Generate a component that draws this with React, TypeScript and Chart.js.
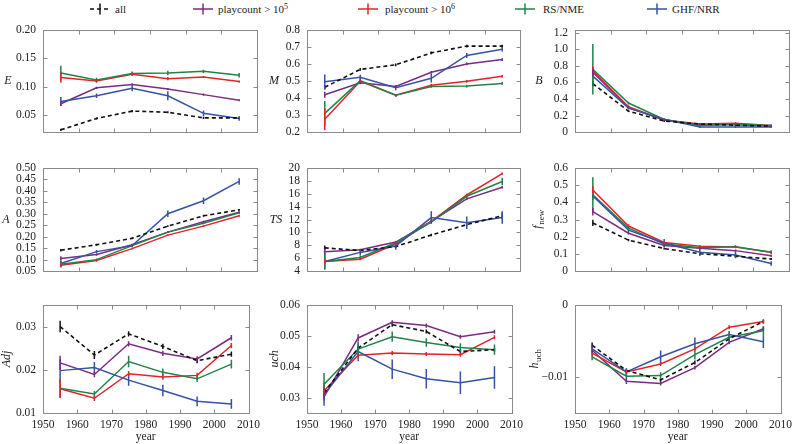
import React, { useEffect, useRef } from 'react';
import { Chart, registerables } from 'chart.js';
Chart.register(...registerables);

// ---------------- data ----------------
const years = [1955, 1965, 1975, 1985, 1995, 2005];
const yearTicks = [1950, 1960, 1970, 1980, 1990, 2000, 2010];
const xTitle = 'year';

const seriesNames = ['all', 'playcount > 10', 'playcount > 10', 'RS/NME', 'GHF/NRR'];
const seriesSups = ['', '5', '6', '', ''];
const seriesColors = ['#111111', '#7a2b82', '#e2242a', '#21834a', '#3653a3'];

// E
const eAll = [0.024, 0.044, 0.057, 0.055, 0.045, 0.045];
const eP5 = [0.070, 0.098, 0.104, 0.096, 0.086, 0.076];
const eP6 = [0.116, 0.110, 0.122, 0.114, 0.117, 0.109];
const eRS = [0.124, 0.112, 0.123, 0.124, 0.127, 0.120];
const eGHF = [0.074, 0.084, 0.097, 0.084, 0.053, 0.044];
const eAllErr = [0.001, 0.001, 0.001, 0.001, 0.001, 0.001];
const eP5Err = [0.003, 0.001, 0.001, 0.001, 0.001, 0.001];
const eP6Err = [0.008, 0.002, 0.002, 0.002, 0.001, 0.001];
const eRSErr = [0.012, 0.003, 0.003, 0.003, 0.002, 0.003];
const eGHFErr = [0.007, 0.003, 0.004, 0.007, 0.004, 0.003];
const eTicks = [0.05, 0.10, 0.15, 0.20];
const eTickLabels = ['0.05', '0.10', '0.15', '0.20'];

// M
const mAll = [0.463, 0.568, 0.595, 0.665, 0.705, 0.705];
const mP5 = [0.419, 0.489, 0.468, 0.551, 0.600, 0.626];
const mP6 = [0.275, 0.498, 0.416, 0.475, 0.498, 0.528];
const mRS = [0.310, 0.502, 0.416, 0.468, 0.470, 0.486];
const mGHF = [0.495, 0.522, 0.460, 0.516, 0.650, 0.686];
const mAllErr = [0.01, 0.005, 0.005, 0.005, 0.005, 0.005];
const mP5Err = [0.015, 0.005, 0.005, 0.005, 0.005, 0.005];
const mP6Err = [0.06, 0.01, 0.005, 0.005, 0.005, 0.005];
const mRSErr = [0.07, 0.01, 0.005, 0.005, 0.005, 0.005];
const mGHFErr = [0.04, 0.012, 0.012, 0.022, 0.012, 0.01];
const mTicks = [0.2, 0.3, 0.4, 0.5, 0.6, 0.7, 0.8];
const mTickLabels = ['0.2', '0.3', '0.4', '0.5', '0.6', '0.7', '0.8'];

// B
const bAll = [0.585, 0.253, 0.134, 0.098, 0.083, 0.072];
const bP5 = [0.723, 0.296, 0.145, 0.090, 0.090, 0.072];
const bP6 = [0.741, 0.307, 0.145, 0.098, 0.108, 0.080];
const bRS = [0.759, 0.351, 0.152, 0.080, 0.098, 0.080];
const bGHF = [0.676, 0.289, 0.155, 0.061, 0.061, 0.061];
const bAllErr = [0.03, 0.005, 0.005, 0.005, 0.005, 0.005];
const bP5Err = [0.04, 0.01, 0.005, 0.005, 0.005, 0.005];
const bP6Err = [0.05, 0.01, 0.005, 0.005, 0.005, 0.005];
const bRSErr = [0.30, 0.01, 0.005, 0.005, 0.005, 0.005];
const bGHFErr = [0.05, 0.01, 0.005, 0.005, 0.005, 0.005];
const bTicks = [0, 0.2, 0.4, 0.6, 0.8, 1.0, 1.2];
const bTickLabels = ['0', '0.2', '0.4', '0.6', '0.8', '1.0', '1.2'];

// A
const aAll = [0.141, 0.165, 0.193, 0.246, 0.291, 0.317];
const aP5 = [0.105, 0.122, 0.165, 0.220, 0.265, 0.307];
const aP6 = [0.076, 0.096, 0.148, 0.207, 0.246, 0.291];
const aRS = [0.080, 0.100, 0.161, 0.220, 0.259, 0.304];
const aGHF = [0.083, 0.135, 0.161, 0.300, 0.357, 0.441];
const aAllErr = [0.003, 0.002, 0.002, 0.002, 0.002, 0.002];
const aP5Err = [0.008, 0.003, 0.002, 0.002, 0.002, 0.002];
const aP6Err = [0.006, 0.003, 0.002, 0.002, 0.002, 0.002];
const aRSErr = [0.012, 0.003, 0.003, 0.002, 0.002, 0.003];
const aGHFErr = [0.01, 0.005, 0.005, 0.012, 0.012, 0.012];
const aTicks = [0.05, 0.10, 0.15, 0.20, 0.25, 0.30, 0.35, 0.40, 0.45, 0.50];
const aTickLabels = ['0.05', '0.10', '0.15', '0.20', '0.25', '0.30', '0.35', '0.40', '0.45', '0.50'];

// TS
const tsAll = [7.6, 7.2, 7.8, 9.6, 11.2, 12.6];
const tsP5 = [7.0, 7.3, 8.5, 11.7, 15.2, 17.0];
const tsP6 = [5.5, 5.85, 8.2, 11.7, 15.8, 19.1];
const tsRS = [5.5, 6.1, 8.4, 11.6, 15.6, 17.9];
const tsGHF = [5.5, 6.9, 7.9, 12.3, 11.5, 12.3];
const tsAllErr = [0.3, 0.1, 0.1, 0.1, 0.1, 0.4];
const tsP5Err = [0.4, 0.1, 0.1, 0.1, 0.1, 0.1];
const tsP6Err = [0.3, 0.1, 0.1, 0.1, 0.1, 0.1];
const tsRSErr = [1.0, 0.2, 0.2, 0.2, 0.2, 0.5];
const tsGHFErr = [1.2, 0.4, 0.5, 0.9, 0.9, 0.9];
const tsTicks = [4, 6, 8, 10, 12, 14, 16, 18, 20];
const tsTickLabels = ['4', '6', '8', '10', '12', '14', '16', '18', '20'];

// f_new
const fAll = [0.280, 0.180, 0.131, 0.101, 0.087, 0.070];
const fP5 = [0.346, 0.220, 0.149, 0.133, 0.119, 0.089];
const fP6 = [0.472, 0.262, 0.166, 0.145, 0.140, 0.110];
const fRS = [0.443, 0.250, 0.157, 0.136, 0.142, 0.110];
const fGHF = [0.437, 0.238, 0.163, 0.110, 0.093, 0.044];
const fAllErr = [0.015, 0.003, 0.003, 0.003, 0.003, 0.003];
const fP5Err = [0.02, 0.005, 0.004, 0.004, 0.004, 0.004];
const fP6Err = [0.02, 0.008, 0.005, 0.004, 0.004, 0.004];
const fRSErr = [0.10, 0.01, 0.005, 0.005, 0.005, 0.008];
const fGHFErr = [0.02, 0.01, 0.02, 0.02, 0.015, 0.01];
const fTicks = [0, 0.1, 0.2, 0.3, 0.4, 0.5, 0.6];
const fTickLabels = ['0', '0.1', '0.2', '0.3', '0.4', '0.5', '0.6'];

// Adj
const adjAll = [0.0300, 0.0234, 0.0283, 0.0254, 0.0221, 0.0236];
const adjP5 = [0.0216, 0.0189, 0.0260, 0.0238, 0.0225, 0.0274];
const adjP6 = [0.0156, 0.0134, 0.0191, 0.0183, 0.0187, 0.0256];
const adjRS = [0.0157, 0.0144, 0.0219, 0.0194, 0.0179, 0.0213];
const adjGHF = [0.0198, 0.0205, 0.0176, 0.0152, 0.0127, 0.0121];
const adjAllErr = [0.0012, 0.0008, 0.0005, 0.0005, 0.0005, 0.0005];
const adjP5Err = [0.0015, 0.0005, 0.0005, 0.0005, 0.0005, 0.0005];
const adjP6Err = [0.002, 0.0005, 0.0005, 0.0005, 0.0005, 0.0005];
const adjRSErr = [0.002, 0.0006, 0.0012, 0.0008, 0.0006, 0.0009];
const adjGHFErr = [0.0025, 0.0012, 0.0012, 0.0012, 0.001, 0.001];
const adjTicks = [0.01, 0.02, 0.03];
const adjTickLabels = ['0.01', '0.02', '0.03'];

// uch
const uAll = [0.0315, 0.0460, 0.0536, 0.0514, 0.0449, 0.0455];
const uP5 = [0.0302, 0.0493, 0.0544, 0.0533, 0.0497, 0.0513];
const uP6 = [0.0322, 0.0437, 0.0444, 0.0441, 0.0439, 0.0495];
const uRS = [0.0343, 0.0457, 0.0497, 0.0478, 0.0462, 0.0455];
const uGHF = [0.0310, 0.0449, 0.0392, 0.0361, 0.0348, 0.0365];
const uAllErr = [0.0005, 0.0005, 0.0005, 0.0005, 0.0005, 0.0005];
const uP5Err = [0.001, 0.001, 0.0005, 0.0005, 0.0005, 0.0005];
const uP6Err = [0.001, 0.0005, 0.0005, 0.0005, 0.0005, 0.0005];
const uRSErr = [0.0035, 0.0015, 0.0015, 0.0012, 0.0012, 0.0015];
const uGHFErr = [0.0035, 0.003, 0.003, 0.003, 0.0035, 0.0035];
const uTicks = [0.03, 0.04, 0.05, 0.06];
const uTickLabels = ['0.03', '0.04', '0.05', '0.06'];

// h_uch
const hAll = [-0.0056, -0.0091, -0.0104, -0.0080, -0.0047, -0.0023];
const hP5 = [-0.0063, -0.0106, -0.0109, -0.0087, -0.0052, -0.0033];
const hP6 = [-0.0067, -0.0093, -0.0082, -0.0061, -0.0031, -0.0023];
const hRS = [-0.0072, -0.0099, -0.0098, -0.0069, -0.0045, -0.0036];
const hGHF = [-0.0061, -0.0093, -0.0072, -0.0054, -0.0041, -0.0051];
const hAllErr = [0.0003, 0.0002, 0.0002, 0.0002, 0.0002, 0.0002];
const hP5Err = [0.0003, 0.0003, 0.0002, 0.0002, 0.0002, 0.0002];
const hP6Err = [0.0003, 0.0002, 0.0002, 0.0002, 0.0002, 0.0002];
const hRSErr = [0.0004, 0.0004, 0.0004, 0.0006, 0.0005, 0.0006];
const hGHFErr = [0.0004, 0.0004, 0.0008, 0.0008, 0.0004, 0.0008];
const hTicks = [-0.01, 0];
const hTickLabels = ['\u22120.01', '0'];

// ---------------- layout ----------------
const colLeft = [43, 307, 575];
const colWidth = [214, 213, 214];
const rowTop = [24, 162, 299];
const rowHeight = [114, 115, 114];
const PL = 48;
const PT = 8;
const PR = 8;
const FONT = "'Liberation Serif', 'DejaVu Serif', serif";

type PanelDef = {
  title: string; sub: string; rot: boolean; dx: number;
  min: number; max: number; ticks: number[]; labels: string[];
  series: number[][]; errs: number[][]; row: number; col: number;
};

const panels: PanelDef[] = [
  { title: 'E', sub: '', rot: false, dx: -35, min: 0.02, max: 0.20, ticks: eTicks, labels: eTickLabels,
    series: [eAll, eP5, eP6, eRS, eGHF], errs: [eAllErr, eP5Err, eP6Err, eRSErr, eGHFErr], row: 0, col: 0 },
  { title: 'M', sub: '', rot: false, dx: -33, min: 0.2, max: 0.8, ticks: mTicks, labels: mTickLabels,
    series: [mAll, mP5, mP6, mRS, mGHF], errs: [mAllErr, mP5Err, mP6Err, mRSErr, mGHFErr], row: 0, col: 1 },
  { title: 'B', sub: '', rot: false, dx: -36, min: 0, max: 1.235, ticks: bTicks, labels: bTickLabels,
    series: [bAll, bP5, bP6, bRS, bGHF], errs: [bAllErr, bP5Err, bP6Err, bRSErr, bGHFErr], row: 0, col: 2 },
  { title: 'A', sub: '', rot: false, dx: -37, min: 0.05, max: 0.50, ticks: aTicks, labels: aTickLabels,
    series: [aAll, aP5, aP6, aRS, aGHF], errs: [aAllErr, aP5Err, aP6Err, aRSErr, aGHFErr], row: 1, col: 0 },
  { title: 'TS', sub: '', rot: false, dx: -31, min: 4, max: 20, ticks: tsTicks, labels: tsTickLabels,
    series: [tsAll, tsP5, tsP6, tsRS, tsGHF], errs: [tsAllErr, tsP5Err, tsP6Err, tsRSErr, tsGHFErr], row: 1, col: 1 },
  { title: 'f', sub: 'new', rot: true, dx: -37, min: 0, max: 0.6, ticks: fTicks, labels: fTickLabels,
    series: [fAll, fP5, fP6, fRS, fGHF], errs: [fAllErr, fP5Err, fP6Err, fRSErr, fGHFErr], row: 1, col: 2 },
  { title: 'Adj', sub: '', rot: true, dx: -36, min: 0.01, max: 0.035, ticks: adjTicks, labels: adjTickLabels,
    series: [adjAll, adjP5, adjP6, adjRS, adjGHF], errs: [adjAllErr, adjP5Err, adjP6Err, adjRSErr, adjGHFErr], row: 2, col: 0 },
  { title: 'uch', sub: '', rot: true, dx: -32, min: 0.025, max: 0.06, ticks: uTicks, labels: uTickLabels,
    series: [uAll, uP5, uP6, uRS, uGHF], errs: [uAllErr, uP5Err, uP6Err, uRSErr, uGHFErr], row: 2, col: 1 },
  { title: 'h', sub: 'uch', rot: true, dx: -40, min: -0.015, max: 0, ticks: hTicks, labels: hTickLabels,
    series: [hAll, hP5, hP6, hRS, hGHF], errs: [hAllErr, hP5Err, hP6Err, hRSErr, hGHFErr], row: 2, col: 2 },
];

// draw order: index 0 is drawn on top
const drawOrder = [0, 4, 3, 2, 1];

const framePlugin = {
  id: 'frame',
  beforeDatasetsDraw(chart: any) {
    const { ctx, chartArea: a, scales } = chart;
    ctx.save();
    ctx.strokeStyle = '#8a8a8a';
    ctx.lineWidth = 1;
    const L = Math.round(a.left) + 0.5, R = Math.round(a.right) + 0.5;
    const T = Math.round(a.top) + 0.5, B = Math.round(a.bottom) + 0.5;
    ctx.strokeRect(L, T, R - L, B - T);
    const tl = 4;
    ctx.beginPath();
    for (const t of scales.x.ticks) {
      const px = Math.round(scales.x.getPixelForValue(t.value)) + 0.5;
      ctx.moveTo(px, B); ctx.lineTo(px, B - tl);
      ctx.moveTo(px, T); ctx.lineTo(px, T + tl);
    }
    for (const t of scales.y.ticks) {
      const py = Math.round(scales.y.getPixelForValue(t.value)) + 0.5;
      ctx.moveTo(L, py); ctx.lineTo(L + tl, py);
      ctx.moveTo(R, py); ctx.lineTo(R - tl, py);
    }
    ctx.stroke();
    ctx.restore();
  },
};

const errorPlugin = {
  id: 'errbars',
  afterDatasetsDraw(chart: any) {
    const { ctx, scales } = chart;
    ctx.save();
    ctx.lineWidth = 1.5;
    chart.data.datasets.forEach((ds: any, i: number) => {
      const meta = chart.getDatasetMeta(i);
      ctx.strokeStyle = ds.borderColor;
      ctx.setLineDash([]);
      ctx.beginPath();
      meta.data.forEach((pt: any, j: number) => {
        const v = ds.data[j].y;
        const e = ds.errors[j];
        const y1 = scales.y.getPixelForValue(v - e);
        const y2 = scales.y.getPixelForValue(v + e);
        ctx.moveTo(pt.x, Math.max(y1, y2) + 0.5);
        ctx.lineTo(pt.x, Math.min(y1, y2) - 0.5);
      });
      ctx.stroke();
    });
    ctx.restore();
  },
};

const titlePlugin = {
  id: 'ptitle',
  afterDraw(chart: any, _args: any, opts: any) {
    const { ctx, chartArea: a } = chart;
    ctx.save();
    ctx.fillStyle = '#222';
    // y title
    const cx = a.left + opts.dx;
    const cy = (a.top + a.bottom) / 2;
    ctx.translate(cx, cy);
    if (opts.rot) ctx.rotate(-Math.PI / 2);
    const mainFont = `italic 12px ${FONT}`;
    const subFont = `9px ${FONT}`;
    ctx.font = mainFont;
    const wm = ctx.measureText(opts.title).width;
    ctx.font = subFont;
    const ws = opts.sub ? ctx.measureText(opts.sub).width : 0;
    const tot = wm + ws;
    ctx.textBaseline = 'middle';
    ctx.textAlign = 'left';
    ctx.font = mainFont;
    ctx.fillText(opts.title, -tot / 2, 0);
    if (opts.sub) {
      ctx.font = subFont;
      ctx.fillText(opts.sub, -tot / 2 + wm + 0.5, 4);
    }
    ctx.restore();
    if (opts.xTitle) {
      ctx.save();
      ctx.fillStyle = '#222';
      ctx.font = `11.5px ${FONT}`;
      ctx.textAlign = 'center';
      ctx.textBaseline = 'middle';
      ctx.fillText(opts.xTitle, (a.left + a.right) / 2, a.bottom + 24);
      ctx.restore();
    }
  },
};

function Panel({ p }: { p: PanelDef }) {
  const ref = useRef<HTMLCanvasElement>(null);
  const bottomRow = p.row === 2;
  const bottomH = bottomRow ? 444 - (rowTop[2] + rowHeight[2]) : 8;
  const width = colWidth[p.col] + PL + PR;
  const height = rowHeight[p.row] + PT + bottomH;
  const left = colLeft[p.col] - PL;
  const top = rowTop[p.row] - PT;

  useEffect(() => {
    if (!ref.current) return;
    const datasets = drawOrder.map((si) => ({
      label: seriesNames[si] + seriesSups[si],
      data: years.map((x, j) => ({ x, y: p.series[si][j] })),
      errors: p.errs[si],
      borderColor: seriesColors[si],
      backgroundColor: seriesColors[si],
      borderWidth: si === 0 ? 1.6 : 1.5,
      borderDash: si === 0 ? [4, 3] : [],
      pointRadius: 0,
      tension: 0,
      fill: false,
    }));
    const chart = new Chart(ref.current, {
      type: 'line',
      data: { datasets } as any,
      options: {
        animation: false,
        responsive: false,
        events: [],
        layout: { padding: { top: PT, right: PR, left: 0, bottom: 0 } },
        plugins: {
          legend: { display: false },
          tooltip: { enabled: false },
          ptitle: { title: p.title, sub: p.sub, rot: p.rot, dx: p.dx, xTitle: bottomRow ? xTitle : '' },
        } as any,
        scales: {
          x: {
            type: 'linear', min: 1950, max: 2010,
            grid: { display: false, drawTicks: false },
            border: { display: false },
            afterBuildTicks: (s: any) => { s.ticks = yearTicks.map((v) => ({ value: v })); },
            afterFit: (s: any) => { s.height = bottomH; },
            ticks: {
              display: bottomRow, autoSkip: false, maxRotation: 0, padding: 5,
              color: '#222', font: { family: FONT, size: 11.5 },
              callback: (v: any) => String(v),
            },
          },
          y: {
            type: 'linear', min: p.min, max: p.max,
            grid: { display: false, drawTicks: false },
            border: { display: false },
            afterBuildTicks: (s: any) => { s.ticks = p.ticks.map((v) => ({ value: v })); },
            afterFit: (s: any) => { s.width = PL; },
            ticks: {
              autoSkip: false, padding: 7,
              color: '#222', font: { family: FONT, size: 11.5 },
              callback: (_v: any, i: number) => p.labels[i],
            },
          },
        },
      } as any,
      plugins: [framePlugin, errorPlugin, titlePlugin],
    });
    return () => chart.destroy();
  }, []);

  return (
    <canvas
      ref={ref}
      width={width}
      height={height}
      style={{ position: 'absolute', left, top, width, height }}
    />
  );
}

const legendIconX = [90, 193, 358, 515, 647];
const legendTextX = [115, 218, 385, 543, 672];

function LegendIcon({ color, dash }: { color: string; dash: boolean }) {
  return (
    <svg width={20} height={14} style={{ display: 'block' }}>
      <line x1={0} y1={7} x2={20} y2={7} stroke={color} strokeWidth={1.5} strokeDasharray={dash ? '4 3' : undefined} />
      <line x1={10} y1={1.5} x2={10} y2={12.5} stroke={color} strokeWidth={1.5} />
    </svg>
  );
}

export default function App() {
  useEffect(() => {
    document.body.style.margin = '0';
  }, []);
  return (
    <div style={{ position: 'absolute', left: 0, top: 0, width: 799, height: 444, background: '#fff', overflow: 'hidden' }}>
      {seriesNames.map((n, i) => (
        <React.Fragment key={i}>
          <div style={{ position: 'absolute', left: legendIconX[i], top: 2 }}>
            <LegendIcon color={seriesColors[i]} dash={i === 0} />
          </div>
          <div style={{ position: 'absolute', left: legendTextX[i], top: 1, fontFamily: FONT, fontSize: 11, lineHeight: '16px', color: '#222', whiteSpace: 'nowrap' }}>
            {n}
            {seriesSups[i] ? <sup style={{ fontSize: 8, lineHeight: 0, verticalAlign: '4px' }}>{seriesSups[i]}</sup> : null}
          </div>
        </React.Fragment>
      ))}
      {panels.map((p, i) => (
        <Panel key={i} p={p} />
      ))}
    </div>
  );
}
